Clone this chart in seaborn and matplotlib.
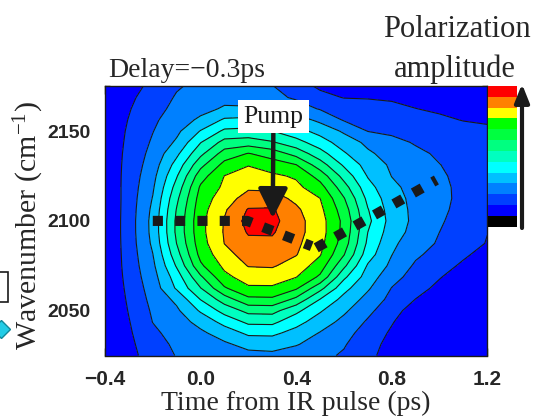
import numpy as np
import matplotlib
matplotlib.use("Agg")
import matplotlib.pyplot as plt
import seaborn as sns
from matplotlib.colors import ListedColormap
from matplotlib.patches import FancyArrowPatch, Rectangle
from matplotlib.lines import Line2D
from matplotlib.ticker import MultipleLocator

# ---------------- data ----------------
time_ps = [-0.4, -0.3, -0.2, -0.1, 0.0, 0.1, 0.2, 0.3, 0.4, 0.5, 0.6, 0.7, 0.8, 0.9, 1.0, 1.1, 1.2]
wavenumber = [2025, 2031.25, 2037.5, 2043.75, 2050, 2056.25, 2062.5, 2068.75, 2075, 2081.25,
              2087.5, 2093.75, 2100, 2106.25, 2112.5, 2118.75, 2125, 2131.25, 2137.5, 2143.75,
              2150, 2156.25, 2162.5, 2168.75, 2175]

# polarization amplitude in contour-level units (level k = k-th contour), one row per wavenumber
amp_2025 = [-0.06, 0.70, 1.45, 2.05, 2.24, 2.50, 2.72, 2.78, 2.52, 2.23, 1.89, 1.24, 0.59, -0.06, -0.5, -0.5, -0.5]
amp_2031 = [-0.08, 0.77, 1.62, 2.18, 2.52, 2.85, 3.30, 3.38, 3.07, 2.59, 2.08, 1.39, 0.68, -0.04, -0.5, -0.5, -0.5]
amp_2037 = [-0.10, 0.86, 1.81, 2.36, 2.82, 3.43, 4.20, 4.22, 3.64, 2.94, 2.31, 1.62, 0.85, 0.08, -0.5, -0.5, -0.5]
amp_2043 = [-0.10, 0.95, 2.02, 2.57, 3.31, 4.35, 5.22, 5.25, 4.35, 3.52, 2.71, 1.88, 1.08, 0.28, -0.5, -0.5, -0.5]
amp_2050 = [-0.12, 1.06, 2.14, 2.83, 4.13, 5.37, 6.30, 6.35, 5.26, 4.11, 3.18, 2.24, 1.38, 0.54, -0.29, -0.5, -0.5]
amp_2056 = [-0.12, 1.17, 2.29, 3.23, 5.03, 6.49, 7.75, 7.80, 6.74, 4.97, 3.67, 2.67, 1.71, 0.98, 0.29, -0.43, -0.5]
amp_2062 = [-0.07, 1.27, 2.44, 4.13, 5.96, 7.88, 8.85, 8.85, 8.14, 6.33, 4.33, 3.13, 1.97, 1.36, 0.76, 0.15, -0.4]
amp_2068 = [0.00, 1.35, 2.61, 4.50, 6.84, 8.74, 9.45, 9.50, 9.03, 7.82, 5.21, 3.53, 2.35, 1.61, 1.06, 0.50, -0.05]
amp_2075 = [0.04, 1.41, 2.79, 5.11, 7.82, 9.23, 10.05, 10.10, 9.58, 8.53, 6.22, 3.89, 2.78, 1.85, 1.35, 0.85, 0.35]
amp_2081 = [0.06, 1.44, 2.98, 5.62, 8.31, 9.66, 10.42, 10.45, 10.05, 9.07, 7.05, 4.45, 3.02, 2.17, 1.62, 1.14, 0.67]
amp_2087 = [0.08, 1.47, 3.18, 6.02, 8.57, 10.02, 10.75, 10.80, 10.20, 9.32, 7.51, 4.80, 3.20, 2.47, 1.88, 1.42, 0.95]
amp_2093 = [0.08, 1.49, 3.29, 6.21, 8.70, 10.09, 11.10, 11.10, 10.33, 9.45, 7.70, 5.00, 3.47, 2.65, 2.00, 1.50, 1.02]
amp_2100 = [0.08, 1.49, 3.31, 6.21, 8.72, 10.07, 11.35, 11.30, 10.35, 9.43, 7.74, 5.25, 3.60, 2.75, 2.11, 1.61, 1.15]
amp_2106 = [0.08, 1.47, 3.21, 6.06, 8.61, 9.87, 11.08, 11.12, 10.18, 9.25, 7.49, 5.05, 3.53, 2.74, 2.19, 1.72, 1.30]
amp_2112 = [0.09, 1.45, 3.05, 5.79, 8.43, 9.56, 10.40, 10.40, 9.78, 9.01, 7.07, 4.75, 3.41, 2.71, 2.22, 1.79, 1.40]
amp_2118 = [0.15, 1.42, 2.87, 5.39, 8.15, 9.20, 9.85, 9.80, 9.25, 8.39, 6.41, 4.36, 3.22, 2.65, 2.20, 1.79, 1.42]
amp_2125 = [0.20, 1.38, 2.69, 4.92, 7.56, 9.02, 9.40, 9.19, 8.87, 7.60, 5.64, 3.93, 2.98, 2.55, 2.13, 1.75, 1.40]
amp_2131 = [0.24, 1.33, 2.49, 4.38, 6.70, 8.32, 8.95, 8.48, 8.02, 6.47, 4.85, 3.59, 2.84, 2.42, 2.02, 1.68, 1.35]
amp_2137 = [0.27, 1.27, 2.31, 3.78, 5.75, 7.44, 8.05, 7.55, 6.64, 5.40, 4.12, 3.15, 2.64, 2.21, 1.86, 1.58, 1.30]
amp_2143 = [0.28, 1.20, 2.13, 3.16, 4.96, 6.35, 6.50, 6.10, 5.38, 4.47, 3.51, 2.79, 2.30, 1.91, 1.67, 1.44, 1.20]
amp_2150 = [0.28, 1.13, 1.97, 2.78, 4.06, 5.20, 5.30, 5.02, 4.38, 3.66, 2.86, 1.98, 1.80, 1.62, 1.45, 1.27, 1.09]
amp_2156 = [0.25, 1.04, 1.83, 2.49, 3.19, 4.15, 4.25, 4.01, 3.46, 2.77, 1.92, 1.73, 1.53, 1.33, 1.14, 0.97, 0.94]
amp_2162 = [0.18, 0.93, 1.67, 2.24, 2.68, 3.12, 3.17, 2.99, 2.41, 1.93, 1.70, 1.47, 1.23, 1.01, 0.88, 0.83, 0.84]
amp_2168 = [0.085, 0.79, 1.49, 2.09, 2.40, 2.72, 2.46, 2.21, 1.89, 1.33, 0.96, 0.93, 0.88, 0.78, 0.70, 0.70, 0.72]
amp_2175 = [-0.04, 0.61, 1.26, 1.91, 2.23, 2.50, 2.27, 2.04, 1.47, 0.82, 0.55, 0.55, 0.60, 0.55, 0.50, 0.55, 0.60]

level_bounds = [-1, 1, 2, 3, 4, 5, 6, 7, 8, 9, 10, 11, 12]
level_colors = ["#0000FF", "#0040FF", "#0080FF", "#00C0FF", "#00FFFF", "#00FFC0",
                "#00FF80", "#00FF40", "#00FF00", "#FFFF00", "#FF8000", "#FF0000"]
cbar_colors = ["#000000"] + level_colors

# peak-position trace (dotted black line)
ridge1_t = [-0.2, 0.195, 0.465]
ridge1_w = [2100, 2100, 2085.9]
ridge2_t = [0.484, 0.987]
ridge2_w = [2085.0, 2122.8]

pump_tip = (0.302, 2101.5)
pump_text = (0.305, 2158)

x_ticks = [-0.4, 0.0, 0.4, 0.8, 1.2]
x_tick_labels = ["\u22120.4", "0.0", "0.4", "0.8", "1.2"]
y_ticks = [2050, 2100, 2150]
y_tick_labels = ["2050", "2100", "2150"]

# ---------------- style ----------------
sns.set_theme(style="ticks")
plt.rcParams["font.family"] = ["Liberation Serif", "DejaVu Serif"]
plt.rcParams["mathtext.default"] = "regular"
plt.rcParams["axes.linewidth"] = 1.0

W_PX, H_PX = 535, 416
fig = plt.figure(figsize=(W_PX / 100, H_PX / 100), dpi=100)
fig.patch.set_facecolor("white")

ax_l, ax_r, ax_t, ax_b = 105.0, 487.3, 86.3, 355.5
ax = fig.add_axes([ax_l / W_PX, (H_PX - ax_b) / H_PX, (ax_r - ax_l) / W_PX, (ax_b - ax_t) / H_PX])

T, Wn = np.meshgrid(time_ps, wavenumber)
Z = np.array([amp_2025, amp_2031, amp_2037, amp_2043, amp_2050, amp_2056, amp_2062, amp_2068,
              amp_2075, amp_2081, amp_2087, amp_2093, amp_2100, amp_2106, amp_2112, amp_2118,
              amp_2125, amp_2131, amp_2137, amp_2143, amp_2150, amp_2156, amp_2162, amp_2168,
              amp_2175])
ax.contourf(T, Wn, Z, levels=level_bounds, colors=level_colors)
ax.contour(T, Wn, Z, levels=level_bounds[1:-1], colors="k", linewidths=0.8)

for rt, rw in ((ridge1_t, ridge1_w), (ridge2_t, ridge2_w)):
    sns.lineplot(x=rt, y=rw, sort=False, ax=ax, color="k", linewidth=7.3,
                 linestyle=(0, (1, 1.2)), dash_capstyle="butt")

ax.annotate("Pump", xy=pump_tip, xytext=pump_text, ha="center", va="center",
            fontsize=18.5, color="k",
            bbox=dict(boxstyle="square,pad=0.22", fc="white", ec="none"),
            arrowprops=dict(arrowstyle="-|>,head_length=0.9,head_width=0.45",
                            mutation_scale=20, lw=3.2, color="k",
                            shrinkA=0, shrinkB=0))

ax.set_xlim(-0.4, 1.2)
ax.set_ylim(2025, 2175)
ax.set_xticks(x_ticks, labels=x_tick_labels, fontsize=15, fontweight="bold",
              fontfamily="Liberation Sans")
ax.set_yticks(y_ticks, labels=y_tick_labels, fontsize=14, fontweight="bold",
              fontfamily="Liberation Sans")
ax.xaxis.set_minor_locator(MultipleLocator(0.1))
ax.yaxis.set_minor_locator(MultipleLocator(25))
ax.tick_params(which="both", direction="in", top=True, right=True, color="k", width=1)
ax.tick_params(which="major", length=6)
ax.tick_params(which="minor", length=3.5)
ax.tick_params(axis="x", which="major", pad=10.6)
ax.tick_params(axis="y", which="major", pad=10.5)
for s in ax.spines.values():
    s.set_color("k")

ax.set_xlabel("Time from IR pulse (ps)", fontsize=20)
ax.xaxis.label.set_va("baseline")
ax.xaxis.set_label_coords(0.5, (ax_b - 409.8) / (ax_b - ax_t))
ax.set_ylabel("Wavenumber (cm$^{-1}$)", fontsize=21.5)
ax.yaxis.label.set_va("center")
ax.yaxis.set_label_coords((28.5 - ax_l) / (ax_r - ax_l), (ax_b - 226) / (ax_b - ax_t))

ax.text((108.3 - ax_l) / (ax_r - ax_l), (ax_b - 76.7) / (ax_b - ax_t), "Delay=\u22120.3ps",
        transform=ax.transAxes, ha="left", va="baseline", fontsize=20)

# discrete colour scale
cax = fig.add_axes([488 / W_PX, (H_PX - 226.7) / H_PX, 28.7 / W_PX, 140.7 / H_PX])
sns.heatmap(np.arange(len(cbar_colors))[::-1].reshape(-1, 1), cmap=ListedColormap(cbar_colors),
            cbar=False, ax=cax, xticklabels=False, yticklabels=False)
cax.set_axis_off()

fig.add_artist(FancyArrowPatch((522 / W_PX, (H_PX - 228) / H_PX), (522 / W_PX, (H_PX - 84) / H_PX),
                               transform=fig.transFigure,
                               arrowstyle="-|>,head_length=0.55,head_width=0.22",
                               mutation_scale=20, lw=3, color="k", shrinkA=0, shrinkB=0))

fig.text(457 / W_PX, (H_PX - 36.7) / H_PX, "Polarization", ha="center", va="baseline", fontsize=22)
fig.text(455 / W_PX, (H_PX - 76.7) / H_PX, "amplitude", ha="center", va="baseline", fontsize=22)

# fragments of the neighbouring panel at the left edge
fig.add_artist(Rectangle((-10 / W_PX, (H_PX - 301.7) / H_PX), 18 / W_PX, 30 / H_PX,
                         transform=fig.transFigure, fill=False, ec="k", lw=1.2))
fig.add_artist(Line2D([1 / W_PX], [(H_PX - 329) / H_PX], transform=fig.transFigure,
                      marker="D", ms=9, mfc="#22CCE6", mec="#118899", mew=1, ls="none"))

fig.savefig("out.png", dpi=100, facecolor="white")
